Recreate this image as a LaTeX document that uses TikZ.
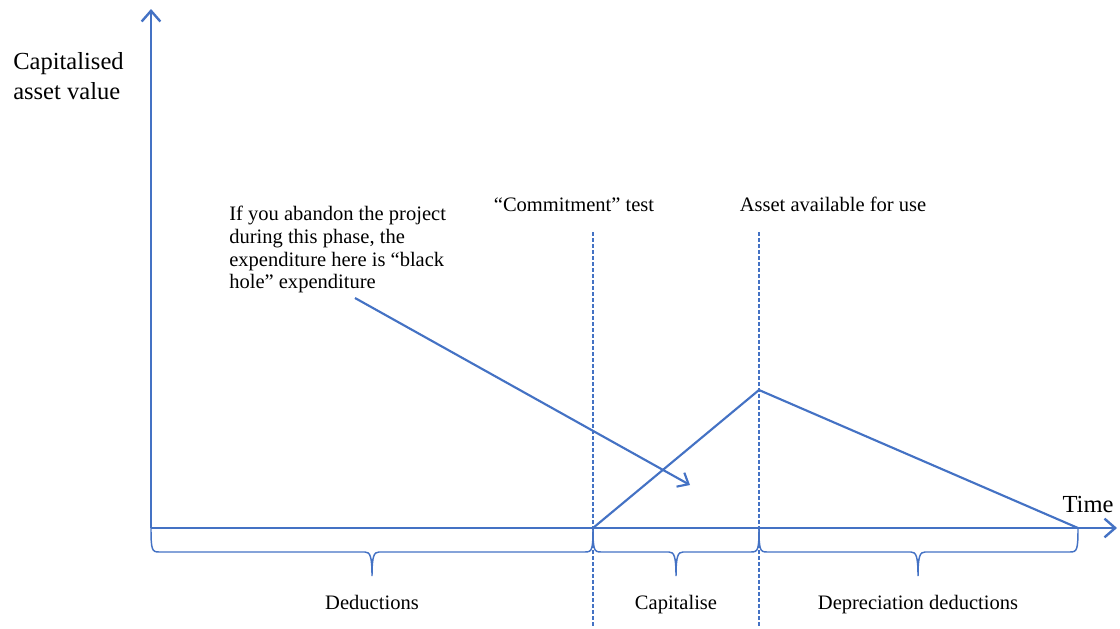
\documentclass[tikz,border=0pt]{standalone}
\usepackage{fontspec}
\setmainfont{Liberation Serif}
\usetikzlibrary{arrows.meta}
\definecolor{lineblue}{RGB}{68,114,196}

\tikzset{
  axis/.style={draw=lineblue,line width=2.1pt,-{Straight Barb[length=8pt,width=14pt,line width=1.8pt]}},
  graphline/.style={draw=lineblue,line width=1.6pt},
  notearrow/.style={draw=lineblue,line width=1.6pt,-{Straight Barb[length=7pt,width=12pt,line width=1.6pt]}},
  marker/.style={draw=lineblue,line width=1.8pt,dash pattern=on 3pt off 1.5pt},
  phasebrace/.style={draw=lineblue,line width=1.1pt},
  smalltext/.style={font=\fontsize{15.4}{17}\selectfont,inner sep=0pt},
  bigtext/.style={font=\fontsize{18.4}{21.8}\selectfont,inner sep=0pt}
}

\begin{document}
\begin{tikzpicture}[x=0.75pt,y=-0.75pt]
\useasboundingbox (0,0) rectangle (1120,628);

% axes
\coordinate (origin) at (151,528);
\coordinate (ytop) at (151,9);
\coordinate (xend) at (1117,528);
\draw[axis] (origin) -- (ytop);
\draw[axis] (origin) -- (xend);

\node[bigtext,anchor=base west,align=left] (ylabel) at (13,99) {Capitalised\\asset value};
\node[bigtext,anchor=base] (xlabel) at (1088,512) {Time};

% test points
\coordinate (commitup) at (593,232);
\coordinate (commitdown) at (593,628);
\coordinate (availup) at (759,232);
\coordinate (availdown) at (759,628);
\draw[marker] (commitup) -- (commitdown);
\draw[marker] (availup) -- (availdown);

\node[smalltext,anchor=base] (commitlabel) at (574,211) {“Commitment” test};
\node[smalltext,anchor=base] (availlabel) at (833,211) {Asset available for use};

% asset value
\coordinate (commit) at (593,528);
\coordinate (peak) at (759,390);
\coordinate (writeoff) at (1078,528);
\draw[graphline] (commit) -- (peak) -- (writeoff);

% black hole note
\node[smalltext,anchor=north west,align=left] (note) at (229,206)
  {If you abandon the project\\during this phase, the\\expenditure here is “black\\hole” expenditure};
\coordinate (notestart) at (355,298);
\coordinate (notetip) at (690,485);
\draw[notearrow] (notestart) -- (notetip);

% phases
\draw[phasebrace] (151,528) .. controls (151,550) and (152,552) .. (159,552) -- (365,552)
  .. controls (370,552) and (372,556) .. (372,576) .. controls (372,556) and (374,552) .. (379,552)
  -- (585,552) .. controls (592,552) and (593,550) .. (593,528);
\draw[phasebrace] (593,528) .. controls (593,550) and (594,552) .. (601,552) -- (669,552)
  .. controls (674,552) and (676,556) .. (676,576) .. controls (676,556) and (678,552) .. (683,552)
  -- (751,552) .. controls (758,552) and (759,550) .. (759,528);
\draw[phasebrace] (759,528) .. controls (759,550) and (760,552) .. (767,552) -- (911,552)
  .. controls (916,552) and (918,556) .. (918,576) .. controls (918,556) and (920,552) .. (925,552)
  -- (1070,552) .. controls (1077,552) and (1078,550) .. (1078,528);

\node[smalltext,anchor=base] (deduct) at (372,609) {Deductions};
\node[smalltext,anchor=base] (capital) at (676,609) {Capitalise};
\node[smalltext,anchor=base] (deprec) at (918,609) {Depreciation deductions};
\end{tikzpicture}
\end{document}
